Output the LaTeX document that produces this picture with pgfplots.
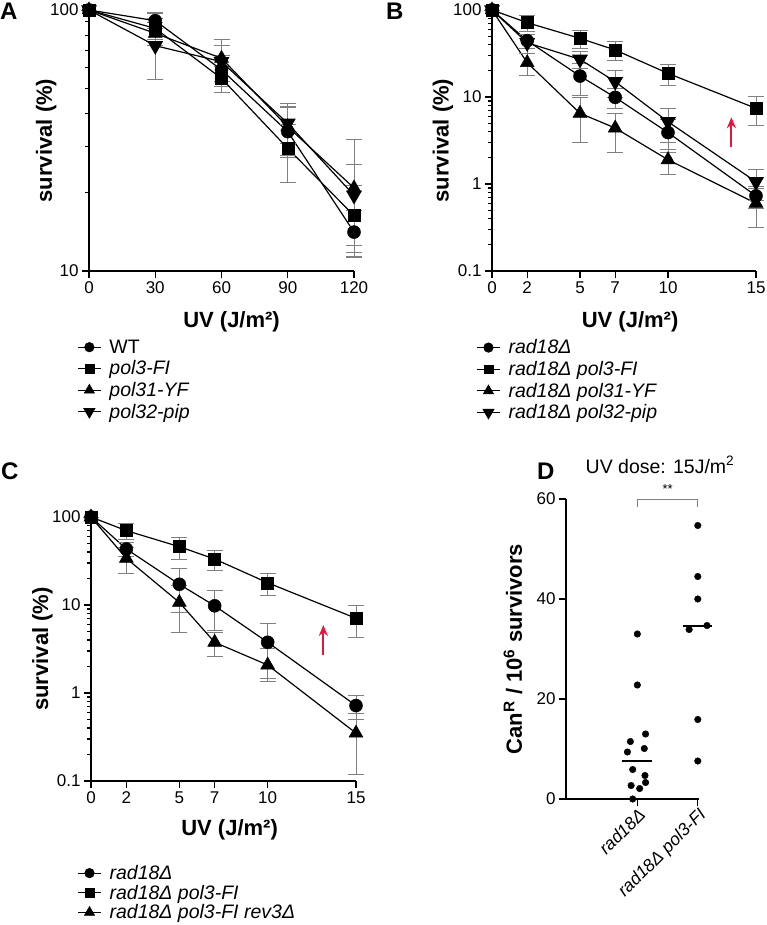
\documentclass[border=0pt]{standalone}
\usepackage{fontspec}
\setmainfont{Liberation Sans}
\setsansfont{Liberation Sans}
\usepackage{pgfplots}
\pgfplotsset{compat=1.18}
\usepackage{pgfplotstable}
\usetikzlibrary{arrows.meta}
\definecolor{arrowred}{RGB}{228,23,62}

\pgfplotstableread{
x y ep em
0 100 0 0
30 91 6 6
60 59 8 8
90 34.2 8 7
120 14.1 3 2.7
}\Awt
\pgfplotstableread{
x y ep em
0 100 0 0
30 85 8 8
60 54.7 6 6.5
90 29.5 7 7.7
120 16.3 5 5
}\Apolthree
\pgfplotstableread{
x y ep em
0 100 0 0
30 81.4 8 8
60 65.3 12 12
90 35.7 8 8
120 20.8 11 9
}\Apolthirtyone
\pgfplotstableread{
x y ep em
0 100 0 0
30 73 25 19
60 63.4 10 10
90 36.8 6 6
120 19.5 6 7
}\Apolthirtytwo

\pgfplotstableread{
x y ep em
0 100 0 0
2 44.4 8 8
5 17.4 7 7
7 9.9 2.5 2.5
10 3.9 1.6 1.6
15 0.73 0.2 0.2
}\Brad
\pgfplotstableread{
x y ep em
0 100 0 0
2 71.5 15 15
5 47.2 11 11
7 34.7 8.5 8.5
10 18.7 5 5
15 7.4 2.7 2.7
}\Bpolthree
\pgfplotstableread{
x y ep em
0 100 0 0
2 24.8 7 7
5 6.5 3.5 3.5
7 4.4 2.1 2.1
10 1.9 0.6 0.6
15 0.6 0.28 0.28
}\Bpolthirtyone
\pgfplotstableread{
x y ep em
0 100 0 0
2 42 10 10
5 27.1 6 6
7 15 5 5
10 5.2 2.2 2.2
15 1.06 0.42 0.42
}\Bpolthirtytwo

\pgfplotstableread{
x y ep em
0 100 0 0
2 43.3 8 8
5 17.2 9 9
7 9.8 5 4.7
10 3.77 2.4 2.4
15 0.72 0.22 0.22
}\Crad
\pgfplotstableread{
x y ep em
0 100 0 0
2 70 15 15
5 46 13 13
7 33.3 8.5 8.5
10 17.9 5 5
15 7.06 2.8 2.8
}\Cpolthree
\pgfplotstableread{
x y ep em
0 100 0 0
2 33.9 11 11
5 10.7 5.8 5.8
7 3.77 1.15 1.15
10 2.08 1.1 0.6
15 0.35 0.23 0.23
}\Crev

\pgfplotsset{
  ln/.style={black, line width=1.2pt, mark options={solid, fill=black, line width=0.5pt},
    error bars/y dir=both, error bars/y explicit,
    error bars/error bar style={gray, line width=0.8pt},
    error bars/error mark options={rotate=90, gray, mark size=8pt, line width=0.8pt}},
  circ/.style={ln, mark=*, mark size=6.5pt},
  sq/.style={ln, mark=square*, mark size=6pt},
  tri/.style={ln, mark=triangle*, mark size=8pt},
  dtri/.style={ln, mark=triangle*, mark size=8pt, mark options={rotate=180}},
  survleg/.style={
    legend cell align=left,
    legend style={draw=none, fill=none, anchor=north west, inner sep=0pt,
      font=\fontsize{19.5}{19.5}\selectfont,
      /tikz/every odd column/.append style={column sep=6pt}},
    legend image code/.code={\draw[mark repeat=2,mark phase=2,
      /tikz/every mark/.append style={scale=0.74}] plot coordinates {(0pt,0pt) (11.5pt,0pt) (23pt,0pt)};},
  },
}

\begin{document}
\begin{tikzpicture}
\useasboundingbox (0,0) rectangle (767pt,-925pt);

% Panel letters
\node[anchor=north west, inner sep=0pt, font=\bfseries\fontsize{24}{24}\selectfont] at (0pt,-3pt) {A};
\node[anchor=north west, inner sep=0pt, font=\bfseries\fontsize{24}{24}\selectfont] at (386pt,-3pt) {B};
\node[anchor=north west, inner sep=0pt, font=\bfseries\fontsize{24}{24}\selectfont] at (1pt,-463pt) {C};
\node[anchor=north west, inner sep=0pt, font=\bfseries\fontsize{24}{24}\selectfont] at (537pt,-463pt) {D};

% Panel A
\begin{axis}[at={(89pt,-271pt)}, anchor=south west,
  scale only axis, width=265pt, height=261pt,
  axis lines=left, axis line style={-, line width=1.2pt},
  ymode=log, log ticks with fixed point,
  ytick={10,100}, minor ytick={20,30,40,50,60,70,80,90},
  tick align=outside, major tick length=7pt, minor tick length=4pt,
  tick style={line width=1.1pt, black},
  tick label style={font=\fontsize{17}{17}\selectfont},
  /pgf/number format/assume math mode=true,
  xlabel={UV (J/m²)}, ylabel={survival (\%)},
  label style={font=\bfseries\fontsize{22}{22}\selectfont},
  clip=false,
  xmin=0, xmax=120, ymin=10, ymax=100,
  xtick={0,30,60,90,120},
  xlabel style={at={(axis description cs:0.538,-0.195)}, anchor=center},
  ylabel style={at={(axis description cs:-0.162,0.5)}, anchor=center},
  survleg,
  legend style={row sep=2pt, at={(axis description cs:-0.045,-0.255)}},
]
\addplot[circ] table[x=x, y=y, y error plus=ep, y error minus=em] {\Awt};
\addlegendentry{WT}
\addplot[sq] table[x=x, y=y, y error plus=ep, y error minus=em] {\Apolthree};
\addlegendentry{\textit{pol3-FI}}
\addplot[tri] table[x=x, y=y, y error plus=ep, y error minus=em] {\Apolthirtyone};
\addlegendentry{\textit{pol31-YF}}
\addplot[dtri] table[x=x, y=y, y error plus=ep, y error minus=em] {\Apolthirtytwo};
\addlegendentry{\textit{pol32-pip}}
\end{axis}

% Panel B
\begin{axis}[at={(492pt,-271pt)}, anchor=south west,
  scale only axis, width=264pt, height=261pt,
  axis lines=left, axis line style={-, line width=1.2pt},
  ymode=log, log ticks with fixed point,
  ytick={0.1,1,10,100},
  tick align=outside, major tick length=7pt, minor tick length=4pt,
  tick style={line width=1.1pt, black},
  tick label style={font=\fontsize{17}{17}\selectfont},
  /pgf/number format/assume math mode=true,
  xlabel={UV (J/m²)}, ylabel={survival (\%)},
  label style={font=\bfseries\fontsize{22}{22}\selectfont},
  clip=false,
  xmin=0, xmax=15, ymin=0.1, ymax=100,
  xtick={0,2,5,7,10,15},
  xlabel style={at={(axis description cs:0.523,-0.195)}, anchor=center},
  ylabel style={at={(axis description cs:-0.186,0.5)}, anchor=center},
  survleg,
  legend style={row sep=2pt, at={(axis description cs:-0.06,-0.255)}},
]
\addplot[circ] table[x=x, y=y, y error plus=ep, y error minus=em] {\Brad};
\addlegendentry{\textit{rad18Δ}}
\addplot[sq] table[x=x, y=y, y error plus=ep, y error minus=em] {\Bpolthree};
\addlegendentry{\textit{rad18Δ pol3-FI}}
\addplot[tri] table[x=x, y=y, y error plus=ep, y error minus=em] {\Bpolthirtyone};
\addlegendentry{\textit{rad18Δ pol31-YF}}
\addplot[dtri] table[x=x, y=y, y error plus=ep, y error minus=em] {\Bpolthirtytwo};
\addlegendentry{\textit{rad18Δ pol32-pip}}
\draw[-{Stealth[length=11pt,width=9pt]}, arrowred, line width=2pt] (axis cs:13.6,2.68) -- (axis cs:13.6,5.85);
\end{axis}

% Panel C
\begin{axis}[at={(91pt,-781pt)}, anchor=south west,
  scale only axis, width=265pt, height=264pt,
  axis lines=left, axis line style={-, line width=1.2pt},
  ymode=log, log ticks with fixed point,
  ytick={0.1,1,10,100},
  tick align=outside, major tick length=7pt, minor tick length=4pt,
  tick style={line width=1.1pt, black},
  tick label style={font=\fontsize{17}{17}\selectfont},
  /pgf/number format/assume math mode=true,
  xlabel={UV (J/m²)}, ylabel={survival (\%)},
  label style={font=\bfseries\fontsize{22}{22}\selectfont},
  clip=false,
  xmin=0, xmax=15, ymin=0.1, ymax=100,
  xtick={0,2,5,7,10,15},
  xlabel style={at={(axis description cs:0.523,-0.186)}, anchor=center},
  ylabel style={at={(axis description cs:-0.183,0.5)}, anchor=center},
  survleg,
  legend style={row sep=0pt, at={(axis description cs:-0.052,-0.311)}},
]
\addplot[circ] table[x=x, y=y, y error plus=ep, y error minus=em] {\Crad};
\addlegendentry{\textit{rad18Δ}}
\addplot[sq] table[x=x, y=y, y error plus=ep, y error minus=em] {\Cpolthree};
\addlegendentry{\textit{rad18Δ pol3-FI}}
\addplot[tri] table[x=x, y=y, y error plus=ep, y error minus=em] {\Crev};
\addlegendentry{\textit{rad18Δ pol3-FI rev3Δ}}
\draw[-{Stealth[length=11pt,width=9pt]}, arrowred, line width=2pt] (axis cs:13.15,2.7) -- (axis cs:13.15,5.93);
\end{axis}

% Panel D
\node[font=\fontsize{19.5}{19.5}\selectfont] at (660pt,-465pt) {UV dose: 15J/m\textsuperscript{2}};
\begin{axis}[scale only axis, at={(566pt,-799pt)}, anchor=south west,
  width=133pt, height=300pt,
  axis lines=left, axis line style={-, line width=1.2pt},
  xmin=-0.18, xmax=2.02, ymin=0, ymax=60,
  xtick={1,2}, xticklabels={{rad18Δ},{rad18Δ pol3-FI}},
  ytick={0,20,40,60},
  tick align=outside, major tick length=7pt,
  tick style={line width=1.1pt, black},
  tick label style={font=\fontsize{17}{17}\selectfont},
  xticklabel style={font=\itshape\fontsize{17.5}{17.5}\selectfont, rotate=45, anchor=north east, inner sep=0.5pt},
  /pgf/number format/assume math mode=true,
  ylabel={Can\textsuperscript{R} / 10\textsuperscript{6} survivors},
  ylabel style={font=\bfseries\fontsize{22}{22}\selectfont, at={(axis description cs:-0.398,0.5)}, anchor=center},
  clip=false,
]
\addplot[only marks, mark=*, mark size=3.3pt, black] coordinates {
(1.0,33) (1.0,22.8) (1.136,13) (0.885,11.5) (1.115,10.1) (0.836,9.4)
(0.923,5.9) (1.126,4.7) (1.136,3.3) (0.897,2.7) (1.038,2.1) (0.923,0)};
\addplot[only marks, mark=*, mark size=3.3pt, black] coordinates {
(2.0,54.7) (2.0,44.5) (2.0,40) (2.152,34.7) (1.857,33.9) (2.0,15.9) (2.0,7.6)};
\addplot[black, line width=2pt] coordinates {(0.754,7.65) (1.246,7.65)};
\addplot[black, line width=2pt] coordinates {(1.76,34.7) (2.24,34.7)};
\draw[gray, line width=0.9pt] (axis cs:1,58.4) -- (axis cs:1,59.9) -- (axis cs:2,59.9) -- (axis cs:2,58.4);
\node[font=\fontsize{13}{13}\selectfont, anchor=south] at (axis cs:1.5,60.3) {**};
\end{axis}
\end{tikzpicture}
\end{document}
